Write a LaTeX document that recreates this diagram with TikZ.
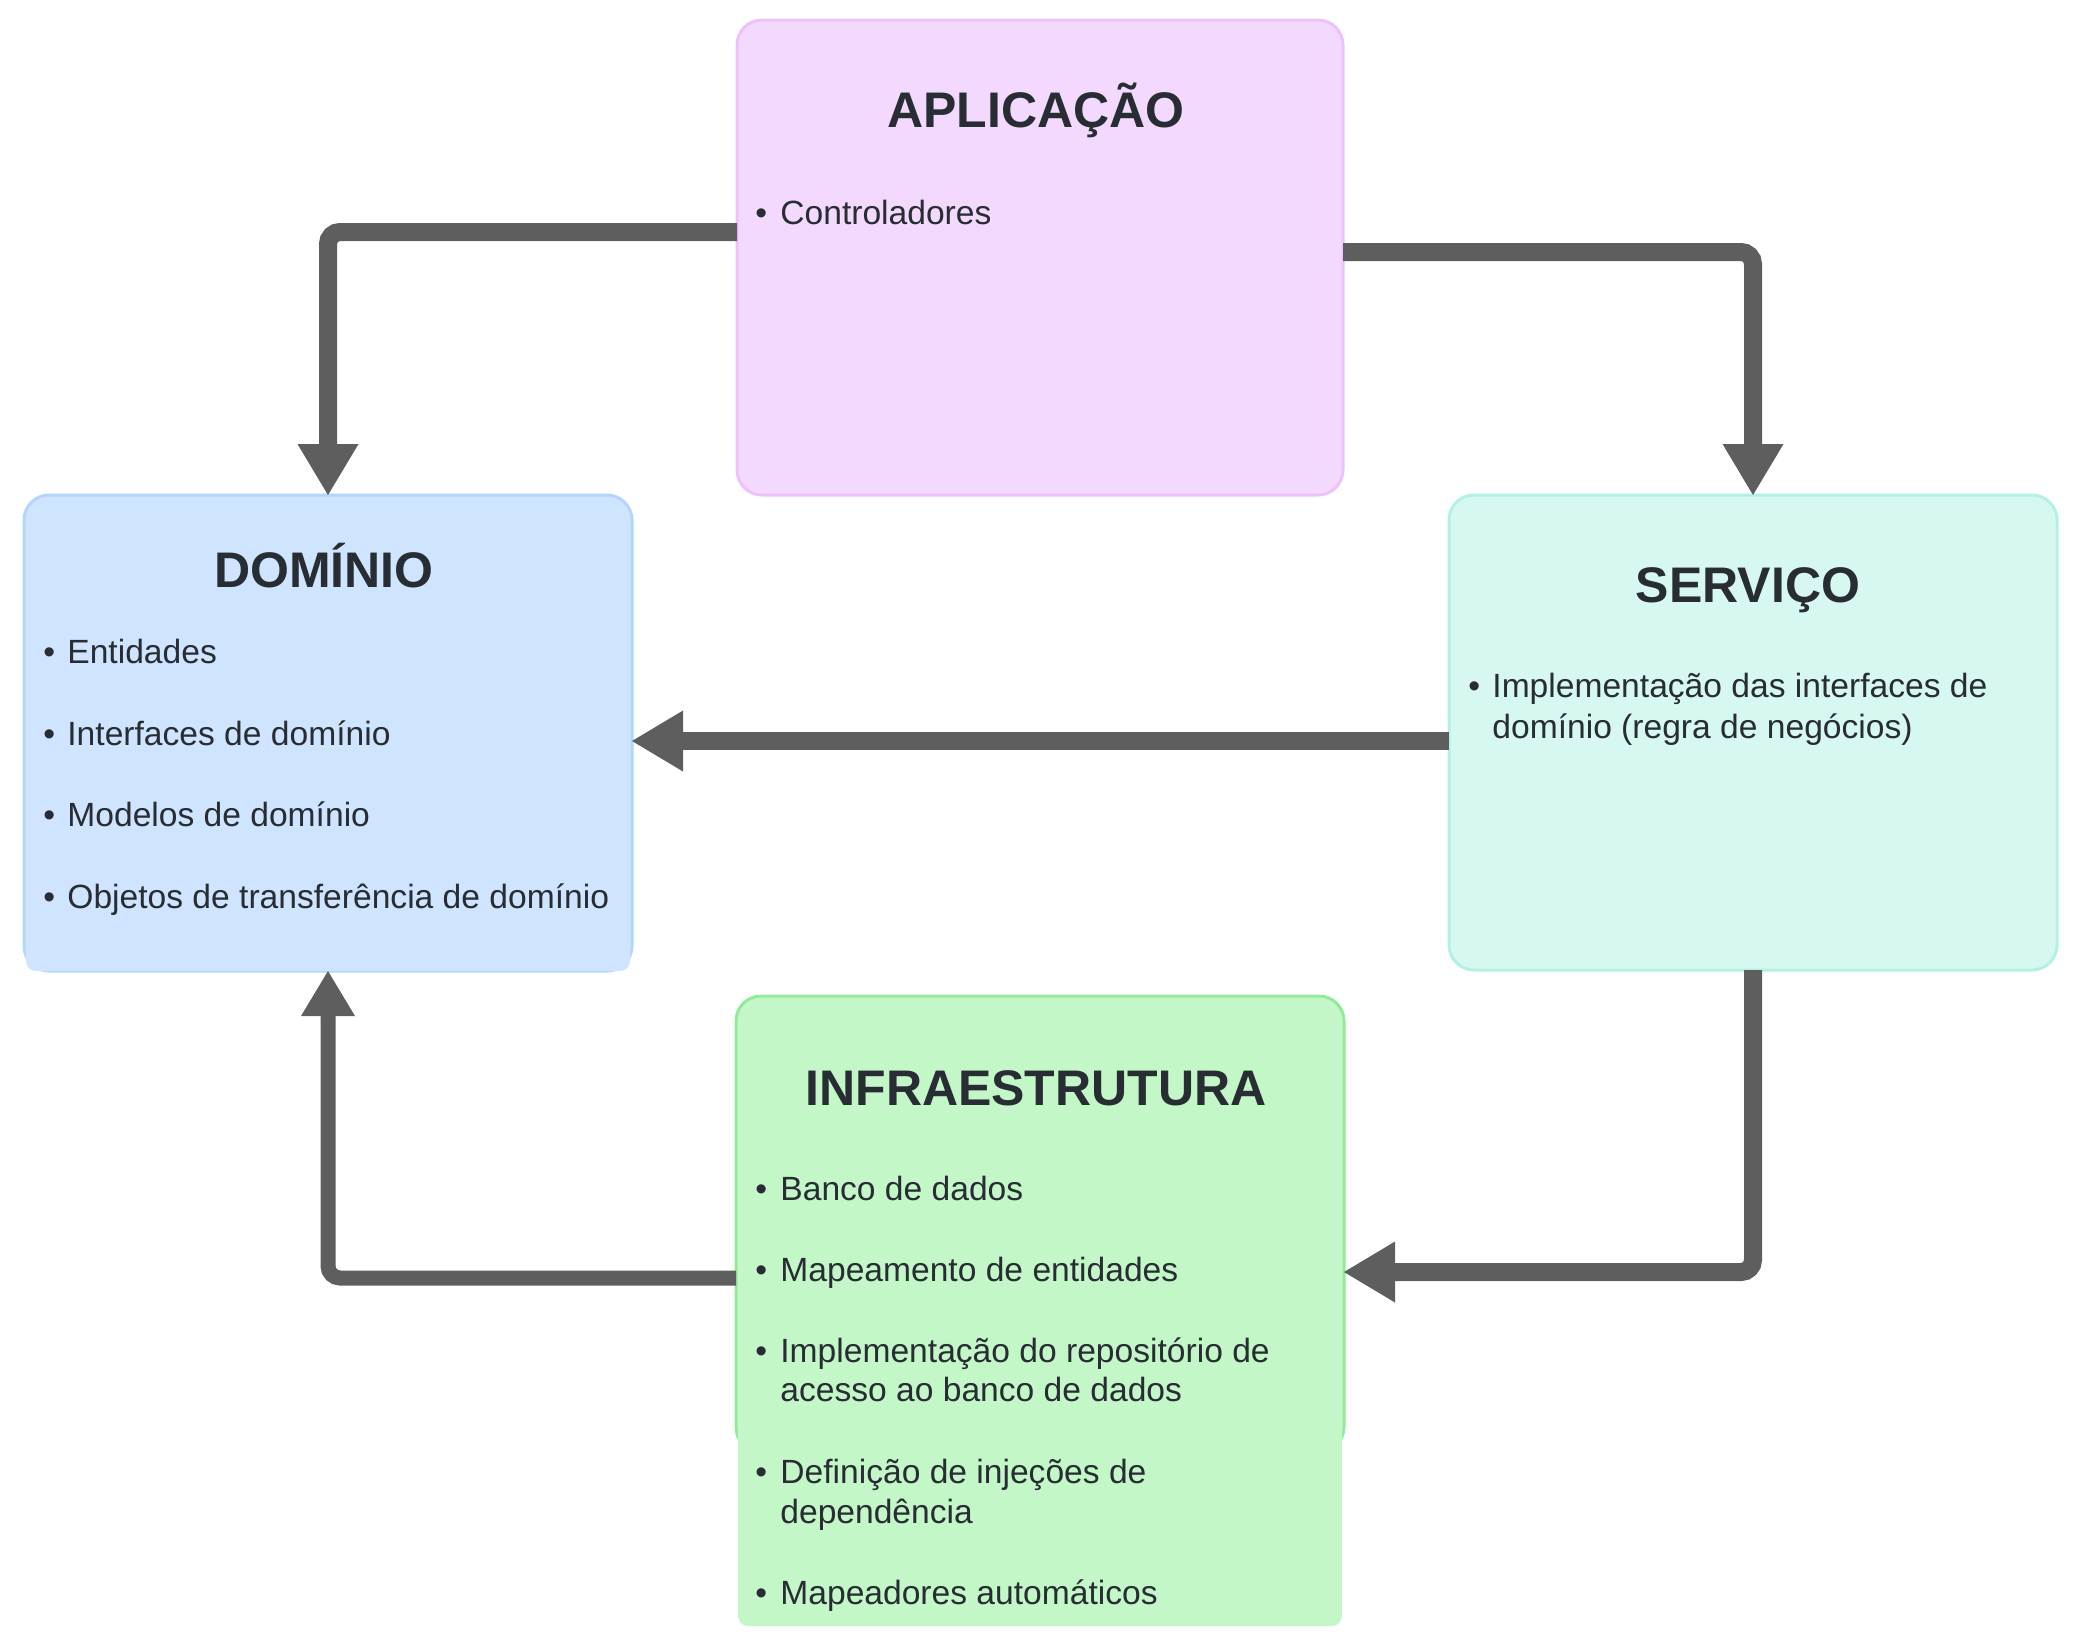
\documentclass[tikz,border=0pt]{standalone}
\usepackage{fontspec}
\setmainfont{Liberation Sans}
\usetikzlibrary{arrows.meta}
\definecolor{txtcol}{HTML}{282C33}
\definecolor{conncol}{HTML}{5E5E5E}
\definecolor{aplF}{HTML}{F3D9FD}
\definecolor{aplB}{HTML}{EBC3FA}
\definecolor{domF}{HTML}{CFE4FF}
\definecolor{domB}{HTML}{B4D5FE}
\definecolor{serF}{HTML}{D6F8F1}
\definecolor{serB}{HTML}{B2F2E6}
\definecolor{infF}{HTML}{C3F7C8}
\definecolor{infB}{HTML}{94E99C}
\begin{document}
\begin{tikzpicture}[x=0.5pt,y=-0.5pt,
  box/.style={draw, line width=1.5pt, rounded corners=12.5pt, inner sep=0pt, outer sep=0pt},
  patch/.style={rounded corners=5pt, inner sep=0pt, outer sep=0pt},
  ttl/.style={anchor=base, inner sep=0pt, text=txtcol, font=\fontsize{25}{30}\selectfont\bfseries},
  itm/.style={anchor=base west, inner sep=0pt, text=txtcol, font=\fontsize{16.8}{20}\selectfont},
  link/.style={draw=conncol, line width=9pt, rounded corners=6pt, -{Triangle[length=25.5pt,width=30.5pt,line width=0pt]}},
  linkthin/.style={link, line width=7.5pt, -{Triangle[length=22.5pt,width=27pt,line width=0pt]}},
]
\useasboundingbox (0,0) rectangle (2078,1646);

% boxes
\node[box, draw=aplB, fill=aplF, minimum width=303pt, minimum height=237.5pt] (apl) at (1040,257.5) {};
\node[box, draw=domB, fill=domF, minimum width=304pt, minimum height=238pt] (dom) at (328,733) {};
\node[patch, fill=domF, minimum width=302pt, minimum height=170.5pt] (dompatch) at (328,800.5) {};
\node[box, draw=serB, fill=serF, minimum width=304pt, minimum height=237.5pt] (ser) at (1753,732.5) {};
\node[box, draw=infB, fill=infF, minimum width=304pt, minimum height=228pt] (inf) at (1040,1224) {};
\node[patch, fill=infF, minimum width=302pt, minimum height=233pt] (infpatch) at (1040,1393) {};

% APLICAÇÃO
\node[ttl] (aplT) at (1036,127) {APLICAÇÃO};
\node[itm] (aplb1) at (755,224) {•};
\node[itm] (aplt1) at (780,224) {Controladores};

% DOMÍNIO
\node[ttl] (domT) at (324,587) {DOMÍNIO};
\node[itm] (domb1) at (43,663) {•};
\node[itm] (domt1) at (67,663) {Entidades};
\node[itm] (domb2) at (43,745) {•};
\node[itm] (domt2) at (67,745) {Interfaces de domínio};
\node[itm] (domb3) at (43,826) {•};
\node[itm] (domt3) at (67,826) {Modelos de domínio};
\node[itm] (domb4) at (43,908) {•};
\node[itm] (domt4) at (67,908) {Objetos de transferência de domínio};

% SERVIÇO
\node[ttl] (serT) at (1748,602) {SERVIÇO};
\node[itm] (serb1) at (1468,697.5) {•};
\node[itm] (sert1) at (1492,697.5) {Implementação das interfaces de};
\node[itm] (sert1b) at (1492,738) {domínio (regra de negócios)};

% INFRAESTRUTURA
\node[ttl] (infT) at (1036,1105) {INFRAESTRUTURA};
\node[itm] (infb1) at (755,1200) {•};
\node[itm] (inft1) at (780,1200) {Banco de dados};
\node[itm] (infb2) at (755,1281) {•};
\node[itm] (inft2) at (780,1281) {Mapeamento de entidades};
\node[itm] (infb3) at (755,1362) {•};
\node[itm] (inft3) at (780,1362) {Implementação do repositório de};
\node[itm] (inft3b) at (780,1401) {acesso ao banco de dados};
\node[itm] (infb4) at (755,1483) {•};
\node[itm] (inft4) at (780,1483) {Definição de injeções de};
\node[itm] (inft4b) at (780,1523) {dependência};
\node[itm] (infb5) at (755,1604) {•};
\node[itm] (inft5) at (780,1604) {Mapeadores automáticos};

% connectors
\coordinate (c1) at (737,232);
\coordinate (c2) at (1343,252);
\coordinate (c3) at (1449,741);
\coordinate (c4) at (1344,1272);
\coordinate (c5) at (736,1278);
\draw[link] (c1) -| (dom.north);
\draw[link] (c2) -| (ser.north);
\draw[link] (c3) -- (c3 -| dom.east);
\draw[link] (ser.south) |- (c4);
\draw[linkthin] (c5) -| (dompatch.south);
\end{tikzpicture}
\end{document}
